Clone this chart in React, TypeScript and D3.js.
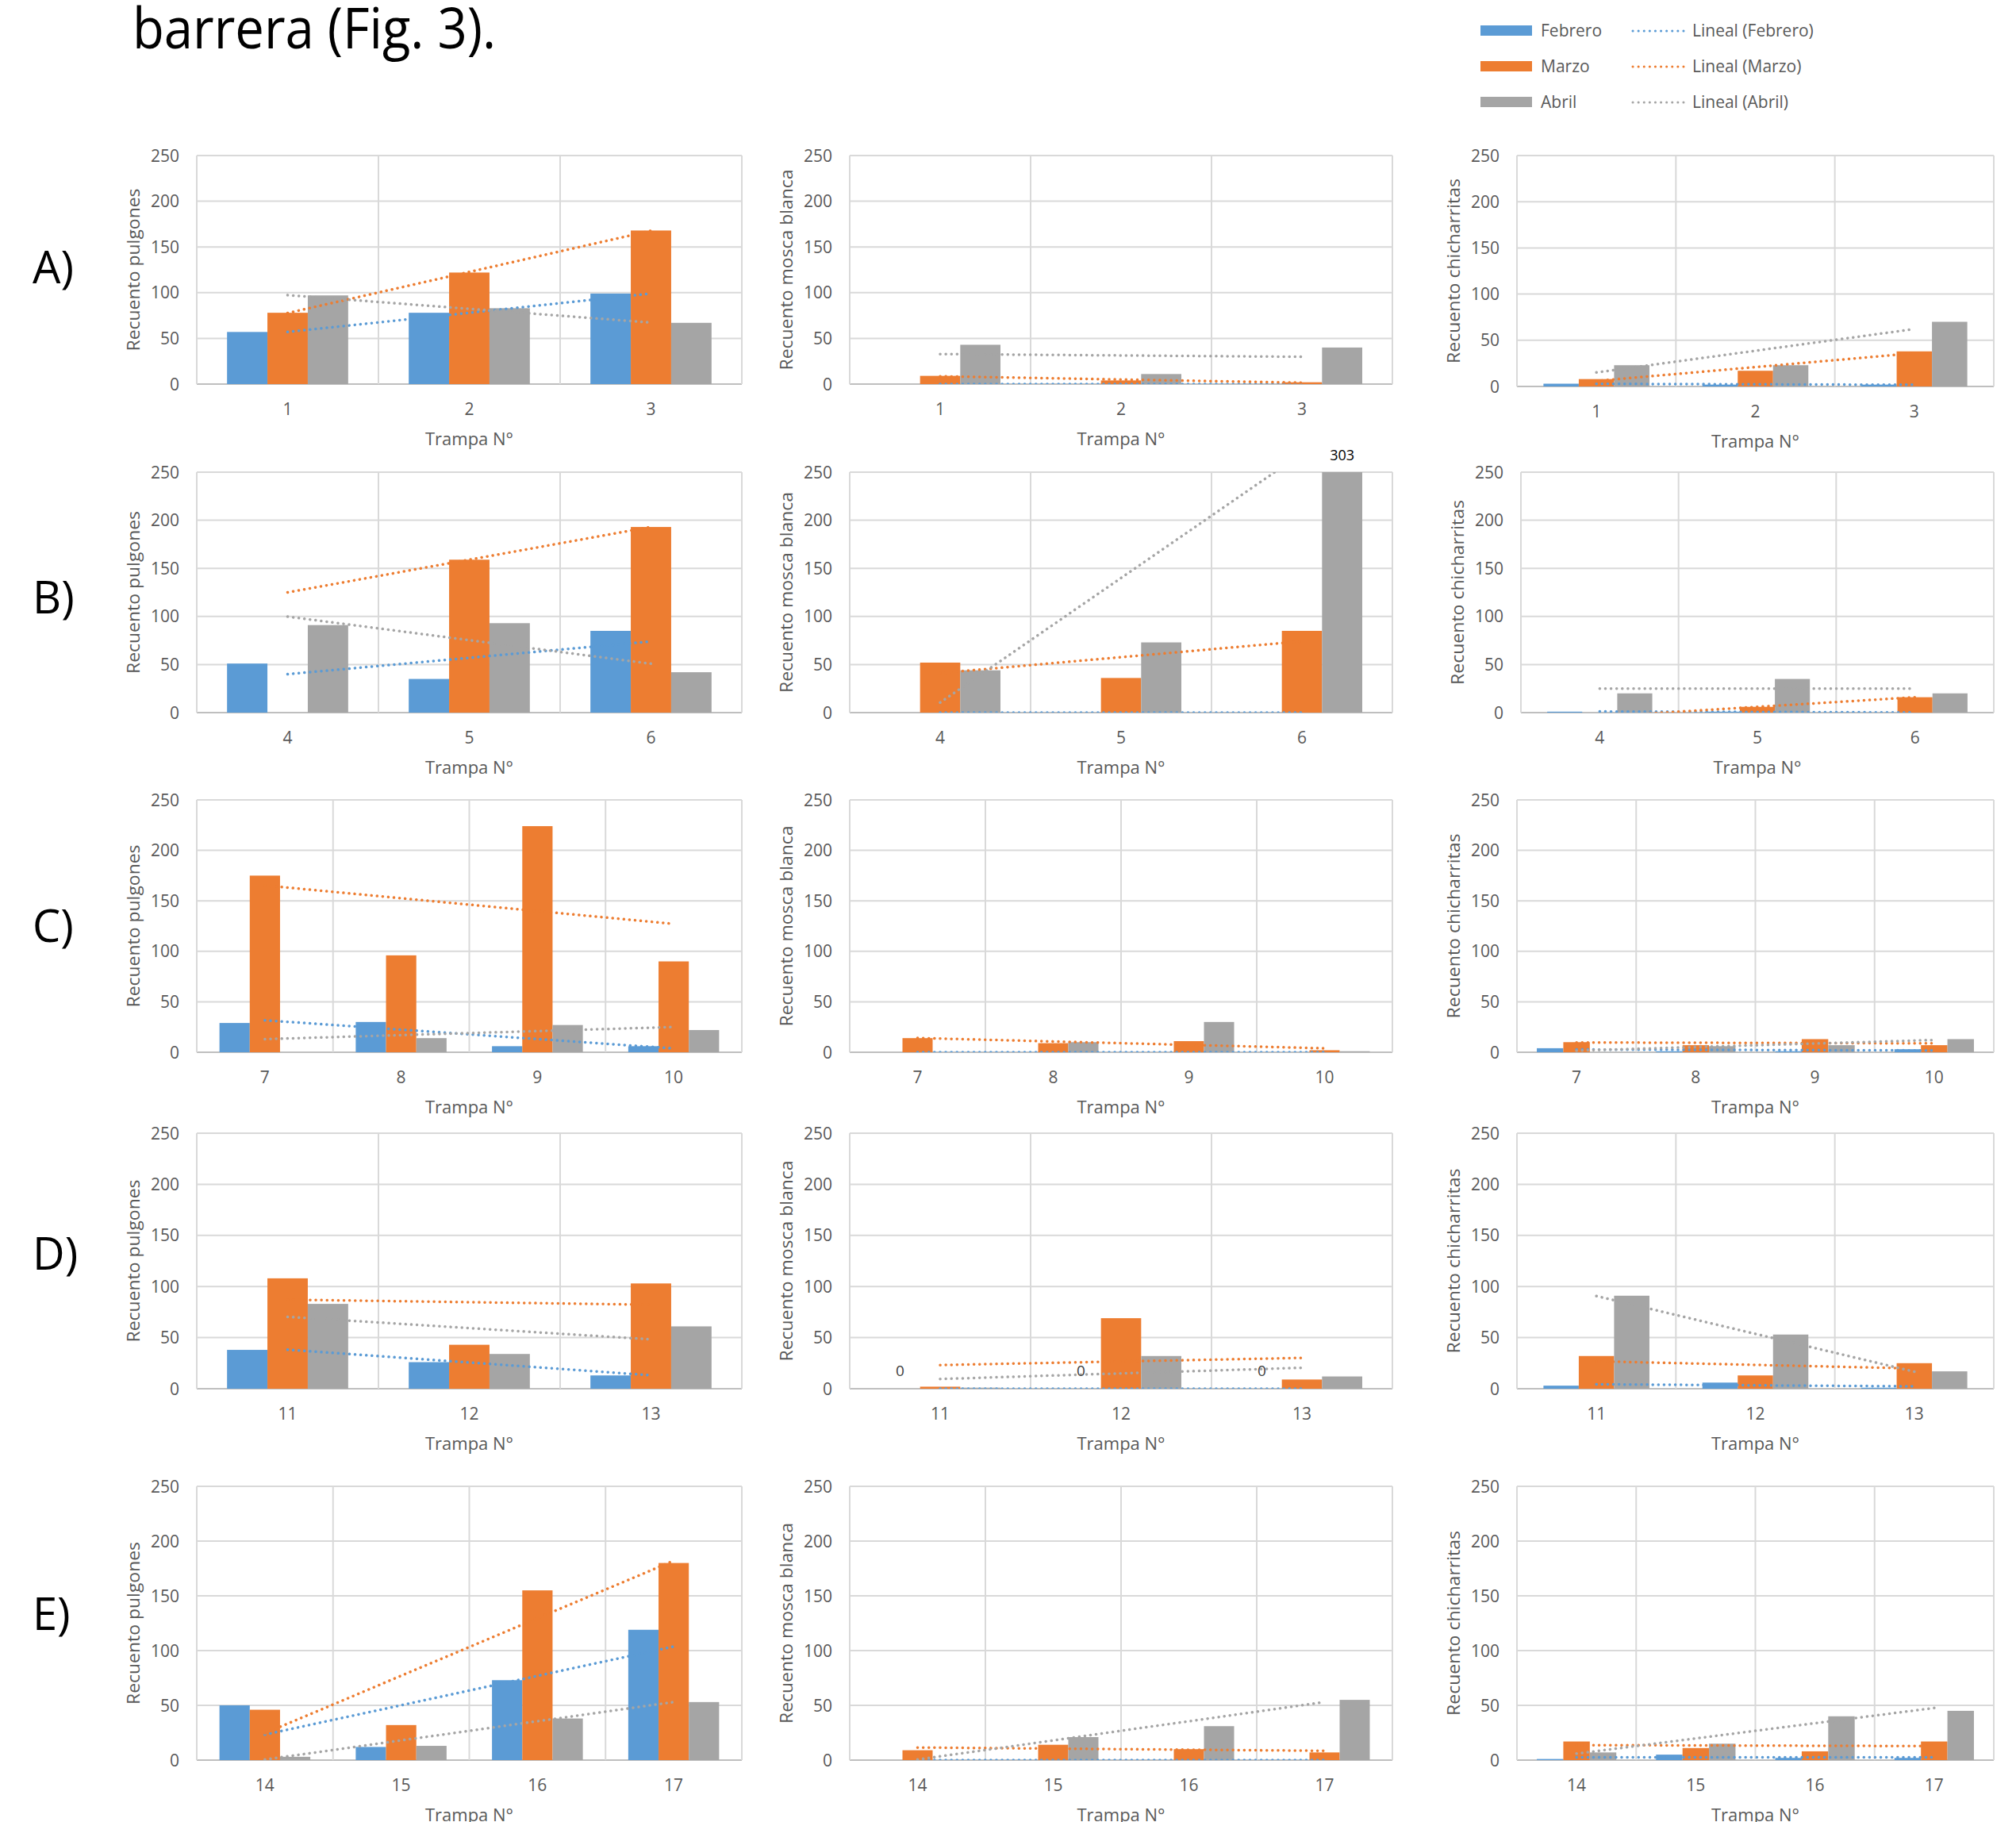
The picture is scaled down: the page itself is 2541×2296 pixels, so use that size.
import React from "react";
import * as d3 from "d3";

// ---------- DATA ----------
const SERIES = ["Febrero", "Marzo", "Abril"];
const SERIES_COLORS = ["#5B9BD5", "#ED7D31", "#A5A5A5"];
const ROW_LABELS = ["A)", "B)", "C)", "D)", "E)"];
const TRAMPAS = [
  ["1", "2", "3"],
  ["4", "5", "6"],
  ["7", "8", "9", "10"],
  ["11", "12", "13"],
  ["14", "15", "16", "17"],
];
const Y_TITLES = ["Recuento pulgones", "Recuento mosca blanca", "Recuento chicharritas"];
const Y_TICKS = [0, 50, 100, 150, 200, 250];
const X_TITLE = "Trampa N°";

// pulgones
const febPulgones = [[57, 78, 99], [51, 35, 85], [29, 30, 6, 6], [38, 26, 13], [50, 12, 73, 119]];
const marPulgones = [[78, 122, 168], [null, 159, 193], [175, 96, 224, 90], [108, 43, 103], [46, 32, 155, 180]];
const abrPulgones = [[97, 83, 67], [91, 93, 42], [null, 14, 27, 22], [83, 34, 61], [3, 13, 38, 53]];
// mosca blanca
const febMosca = [[0, 0, 0], [0, 0, 0], [0, 0, 0, 0], [0, 0, 0], [0, 0, 0, 0]];
const marMosca = [[9, 4, 2], [52, 36, 85], [14, 9, 11, 2], [2, 69, 9], [9, 14, 10, 7]];
const abrMosca = [[43, 11, 40], [44, 73, 303], [0, 10, 30, 1], [1, 32, 12], [0, 21, 31, 55]];
// chicharritas
const febChich = [[3, 2, 2], [1, 1, 0], [4, 1, 1, 3], [3, 6, 1], [1, 5, 2, 2]];
const marChich = [[8, 17, 38], [null, 6, 16], [10, 7, 13, 7], [32, 13, 25], [17, 11, 8, 17]];
const abrChich = [[23, 23, 70], [20, 35, 20], [null, 6, 7, 13], [91, 53, 17], [7, 15, 40, 45]];

const DATA = [
  [febPulgones, marPulgones, abrPulgones],
  [febMosca, marMosca, abrMosca],
  [febChich, marChich, abrChich],
];

// trendlines not shown: [row, col, series]
const HIDDEN_TRENDS = [[2, 1, 2]];
// data labels shown: [row, col, series, category index]
const VALUE_LABELS = [
  [1, 1, 2, 2],
  [3, 1, 0, 0],
  [3, 1, 0, 1],
  [3, 1, 0, 2],
];

// ---------- LAYOUT ----------
const W = 2541;
const H = 2296;
const COL_X = [[248, 935], [1071, 1755], [1912, 2513]];
const ROW_Y = [[196, 484], [595, 898], [1008, 1326], [1428, 1750], [1873, 2218]];
const ROW_LABEL_Y = [337, 753, 1167, 1580, 2034];
const Y_TITLE_LEN = [205, 253, 233];
const FONT = "'Open Sans', 'Liberation Sans', sans-serif";
const TEXT_GRAY = "#595959";
const GRID = "#D9D9D9";

function regression(vals: (number | null)[]) {
  const pts = vals.map((v, i) => [i + 1, v] as [number, number | null]).filter((p) => p[1] !== null) as [number, number][];
  const mx = d3.mean(pts, (p) => p[0])!;
  const my = d3.mean(pts, (p) => p[1])!;
  const sxy = d3.sum(pts, (p) => (p[0] - mx) * (p[1] - my));
  const sxx = d3.sum(pts, (p) => (p[0] - mx) * (p[0] - mx));
  const slope = sxx === 0 ? 0 : sxy / sxx;
  return (x: number) => my + slope * (x - mx);
}

function Panel({ row, col }: { row: number; col: number }) {
  let [left, right] = COL_X[col];
  let [top, bottom] = ROW_Y[row];
  if (row === 0 && col === 2) bottom = 487;
  if (row === 1 && col === 2) left = 1917;
  const cats = TRAMPAS[row];
  const x = d3.scaleBand<string>().domain(cats).range([left, right]).paddingInner(0).paddingOuter(0);
  const y = d3.scaleLinear().domain([0, 250]).range([bottom, top]);
  const band = x.bandwidth();
  const bw = band / 4.5;
  const sx = d3
    .scaleBand<string>()
    .domain(SERIES)
    .range([band / 2 - 1.5 * bw, band / 2 + 1.5 * bw])
    .padding(0);
  const clipId = `clip-${row}-${col}`;
  const series = DATA[col].map((s) => s[row]);
  const edges = cats.map((c) => x(c)!).concat([right]);
  const cx = (i: number) => x(cats[i])! + band / 2;

  return (
    <g>
      <defs>
        <clipPath id={clipId}>
          <rect x={left} y={top} width={right - left} height={bottom - top} />
        </clipPath>
      </defs>
      {Y_TICKS.map((t) => (
        <line key={"h" + t} x1={left} x2={right} y1={y(t)} y2={y(t)} stroke={t === 0 ? "#BFBFBF" : GRID} strokeWidth={2} />
      ))}
      {edges.map((e, i) => (
        <line key={"v" + i} x1={e} x2={e} y1={top} y2={y(0)} stroke={GRID} strokeWidth={2} />
      ))}
      <g clipPath={`url(#${clipId})`}>
        {series.map((vals, si) =>
          vals.map((v, ci) =>
            v === null || v === 0 ? null : (
              <rect
                key={`b${si}-${ci}`}
                x={x(cats[ci])! + sx(SERIES[si])!}
                y={y(Math.min(v, 250))}
                width={sx.bandwidth()}
                height={y(0) - y(Math.min(v, 250))}
                fill={SERIES_COLORS[si]}
              />
            )
          )
        )}
      </g>
      <g clipPath={`url(#${clipId})`}>
        {series.map((vals, si) => {
          if (HIDDEN_TRENDS.some((h) => h[0] === row && h[1] === col && h[2] === si)) return null;
          const f = regression(vals);
          const n = vals.length;
          return (
            <line
              key={"t" + si}
              x1={cx(0)}
              x2={cx(n - 1)}
              y1={y(f(1))}
              y2={y(f(n))}
              stroke={SERIES_COLORS[si]}
              strokeWidth={3.5}
              strokeDasharray="0.1 7"
              strokeLinecap="round"
            />
          );
        })}
      </g>
      {VALUE_LABELS.filter((l) => l[0] === row && l[1] === col).map((l, i) => {
        const v = series[l[2]][l[3]] as number;
        const bx = x(cats[l[3]])! + sx(SERIES[l[2]])! + sx.bandwidth() / 2;
        const clipped = v > 250;
        return (
          <text
            key={"l" + i}
            x={bx}
            y={clipped ? top - 15 : y(v) - 16}
            textAnchor="middle"
            fontFamily={FONT}
            fontSize={clipped ? 18 : 19}
            fill={clipped ? "#000" : "#404040"}
          >
            {String(v)}
          </text>
        );
      })}
      {Y_TICKS.map((t) => (
        <text key={"yt" + t} x={left - 22} y={y(t)} dy="0.36em" textAnchor="end" fontFamily={FONT} fontSize={21} fill={TEXT_GRAY}>
          {t}
        </text>
      ))}
      {cats.map((c, i) => (
        <text key={"xt" + c} x={cx(i)} y={bottom + 39} textAnchor="middle" fontFamily={FONT} fontSize={21} fill={TEXT_GRAY}>
          {c}
        </text>
      ))}
      <text x={(left + right) / 2} y={bottom + 77} textAnchor="middle" fontFamily={FONT} fontSize={22} fill={TEXT_GRAY}>
        {X_TITLE}
      </text>
      <text
        transform={`translate(${left - 72},${(top + bottom) / 2}) rotate(-90)`}
        textAnchor="middle"
        fontFamily={FONT}
        fontSize={22}
        fill={TEXT_GRAY}
        textLength={Y_TITLE_LEN[col]}
        lengthAdjust="spacingAndGlyphs"
      >
        {Y_TITLES[col]}
      </text>
    </g>
  );
}

function Legend() {
  const rowsY = [39, 84, 129];
  return (
    <g fontFamily={FONT} fontSize={21} fill={TEXT_GRAY}>
      {SERIES.map((s, i) => (
        <g key={s}>
          <rect x={1866} y={rowsY[i] - 7} width={65} height={13} fill={SERIES_COLORS[i]} />
          <text x={1942} y={rowsY[i]} dy="0.35em">
            {s}
          </text>
          <line
            x1={2058}
            x2={2124}
            y1={rowsY[i]}
            y2={rowsY[i]}
            stroke={SERIES_COLORS[i]}
            strokeWidth={3}
            strokeDasharray="0.1 7"
            strokeLinecap="round"
          />
          <text x={2133} y={rowsY[i]} dy="0.35em">
            {`Lineal (${s})`}
          </text>
        </g>
      ))}
    </g>
  );
}

export default function App() {
  return (
    <svg
      width={W}
      height={H}
      viewBox={`0 0 ${W} ${H}`}
      style={{ position: "absolute", left: 0, top: 0, background: "#fff" }}
    >
      <rect x={0} y={0} width={W} height={H} fill="#fff" />
      <text x={167} y={61} fontFamily={FONT} fontSize={72} fill="#000" textLength={458} lengthAdjust="spacingAndGlyphs">
        barrera (Fig. 3).
      </text>
      <Legend />
      {ROW_LABELS.map((l, r) => (
        <text key={l} x={41} y={ROW_LABEL_Y[r]} dy="0.36em" fontFamily={FONT} fontSize={56} fill="#000">
          {l}
        </text>
      ))}
      {ROW_LABELS.map((_, r) => [0, 1, 2].map((c) => <Panel key={`${r}-${c}`} row={r} col={c} />))}
    </svg>
  );
}
